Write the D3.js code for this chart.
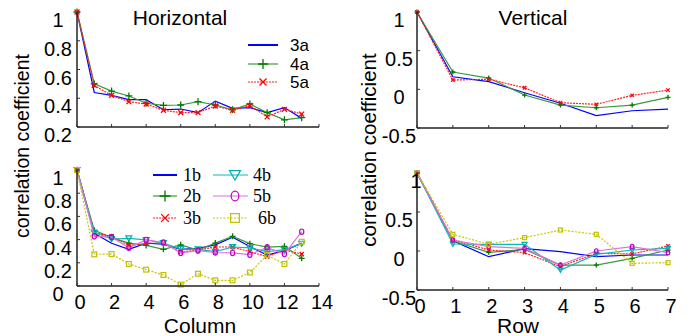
<!DOCTYPE html>
<html>
<head>
<meta charset="utf-8">
<script src="https://cdn.jsdelivr.net/npm/d3@7"></script>
<style>
  body { margin: 0; background: #fff; }
  svg { display: block; font-family: "Liberation Sans", Arial, sans-serif; }
</style>
</head>
<body>
<div id="chart"></div>
<script>
//
// Correlation vs offset, 2x2 panels
//
const columnIdx = [0, 1, 2, 3, 4, 5, 6, 7, 8, 9, 10, 11, 12, 13]
const rowIdx = [0, 1, 2, 3, 4, 5, 6, 7]

// top left: horizontal, series a
const h3a = [1, 0.44, 0.42, 0.39, 0.39, 0.32, 0.325, 0.30, 0.38, 0.33, 0.335, 0.30, 0.335, 0.26]
const h4a = [1, 0.50, 0.45, 0.416, 0.365, 0.35, 0.353, 0.376, 0.353, 0.32, 0.36, 0.30, 0.25, 0.265]
const h5a = [1, 0.49, 0.42, 0.376, 0.36, 0.316, 0.30, 0.30, 0.346, 0.316, 0.35, 0.27, 0.323, 0.29]

// top right: vertical, series a
const v3a = [1, 0.163, 0.10, -0.044, -0.18, -0.34, -0.277, -0.255]
const v4a = [1, 0.224, 0.146, -0.074, -0.203, -0.238, -0.203, -0.103]
const v5a = [1, 0.12, 0.13, 0.02, -0.173, -0.194, -0.078, -0.01]

// bottom left: horizontal, series b
const h1b = [1, 0.454, 0.368, 0.316, 0.37, 0.36, 0.316, 0.325, 0.355, 0.42, 0.34, 0.267, 0.305, 0.37]
const h2b = [1, 0.48, 0.417, 0.37, 0.35, 0.316, 0.355, 0.31, 0.37, 0.428, 0.365, 0.335, 0.342, 0.239]
const h3b = [1, 0.46, 0.428, 0.35, 0.368, 0.37, 0.292, 0.31, 0.336, 0.336, 0.296, 0.253, 0.31, 0.275]
const h4b = [1, 0.46, 0.405, 0.411, 0.397, 0.37, 0.318, 0.316, 0.296, 0.336, 0.328, 0.296, 0.313, 0.365]
const h5b = [1, 0.428, 0.422, 0.33, 0.397, 0.375, 0.285, 0.305, 0.289, 0.285, 0.27, 0.333, 0.275, 0.468]
const h6b = [1, 0.273, 0.275, 0.19, 0.141, 0.095, 0.012, 0.106, 0.049, 0.049, 0.116, 0.266, 0.19, 0.382]

// bottom right: vertical, series b
const v1b = [1, 0.13, -0.073, 0.03, -0.008, -0.073, -0.051, -0.051]
const v2b = [1, 0.13, -0.017, 0.021, -0.18, -0.18, -0.094, 0.013]
const v3b = [1, 0.145, 0.013, -0.021, -0.2, -0.03, -0.038, 0.064]
const v4b = [1, 0.09, 0.086, 0.086, -0.244, -0.043, 0.013, 0.034]
const v5b = [1, 0.141, 0.055, 0.034, -0.18, 0, 0.055, -0.021]
const v6b = [1, 0.214, 0.086, 0.171, 0.269, 0.214, -0.158, -0.15]

// tick labels
const leftTopYTicks = [0.2, 0.4, 0.6, 0.8, 1]
const leftTopYLabels = ["0.2", "0.4", "0.6", "0.8", "1"]
const leftBotYTicks = [0, 0.2, 0.4, 0.6, 0.8, 1]
const leftBotYLabels = ["0", "0.2", "0.4", "0.6", "0.8", "1"]
const rightYTicks = [-0.5, 0, 0.5, 1]
const rightYLabels = ["-0.5", "0", "0.5", "1"]
const columnTicks = [0, 2, 4, 6, 8, 10, 12, 14]
const rowTicks = [0, 1, 2, 3, 4, 5, 6, 7]

// series styles
const styles = {
  "1b": { line: "#0000ff", mark: "#0000ff", type: null, dash: null },
  "2b": { line: "#3c9a3c", mark: "#007a00", type: "plus", dash: null },
  "3b": { line: "#ff2020", mark: "#ff0000", type: "cross", dash: "2,1" },
  "4b": { line: "#10b8b8", mark: "#00b0b0", type: "tri", dash: null },
  "5b": { line: "#e070e0", mark: "#c000c0", type: "circle", dash: null },
  "6b": { line: "#c8c800", mark: "#c0c000", type: "square", dash: "2,1.5" }
}
styles["3a"] = styles["1b"]
styles["4a"] = styles["2b"]
styles["5a"] = styles["3b"]

const svg = d3.select("#chart").append("svg")
  .attr("width", 690)
  .attr("height", 336)

// draw one marker glyph
function marker(g, type, x, y, s, color) {
  if (type === "plus") {
    g.append("path").attr("d", `M${x - s},${y}H${x + s}M${x},${y - s}V${y + s}`)
      .attr("stroke", color).attr("stroke-width", 1.3).attr("fill", "none")
  } else if (type === "cross") {
    g.append("path").attr("d", `M${x - s * 0.7},${y - s * 0.7}L${x + s * 0.7},${y + s * 0.7}M${x - s * 0.7},${y + s * 0.7}L${x + s * 0.7},${y - s * 0.7}`)
      .attr("stroke", color).attr("stroke-width", 1.3).attr("fill", "none")
  } else if (type === "tri") {
    g.append("path").attr("d", `M${x - s},${y - s * 0.8}L${x + s},${y - s * 0.8}L${x},${y + s * 0.9}Z`)
      .attr("stroke", color).attr("stroke-width", 1.2).attr("fill", "none")
  } else if (type === "circle") {
    g.append("ellipse").attr("cx", x).attr("cy", y).attr("rx", s * 0.7).attr("ry", s * 0.9)
      .attr("stroke", color).attr("stroke-width", 1.2).attr("fill", "none")
  } else if (type === "square") {
    g.append("rect").attr("x", x - s * 0.8).attr("y", y - s * 0.8).attr("width", s * 1.6).attr("height", s * 1.6)
      .attr("stroke", color).attr("stroke-width", 1.2).attr("fill", "none")
  }
}

function panel(opt) {
  const x = d3.scaleLinear().domain(opt.xDomain).range([opt.left, opt.right])
  const y = d3.scaleLinear().domain(opt.yDomain).range([opt.bottom, opt.top])
  const g = svg.append("g")

  // series lines and markers
  opt.series.forEach(function(s) {
    const st = styles[s.name]
    const line = d3.line().x((d, i) => x(opt.xs[i])).y(d => y(d))
    g.append("path")
      .attr("d", line(s.values))
      .attr("fill", "none")
      .attr("stroke", st.line)
      .attr("stroke-width", 1.2)
      .attr("stroke-dasharray", st.dash)
    if (st.type) {
      s.values.forEach(function(v, i) {
        marker(g, st.type, x(opt.xs[i]), y(v), opt.markSize, st.mark)
      })
    }
  })

  // axes
  const ax = svg.append("g")
  ax.append("line")
    .attr("x1", x(opt.xDomain[0])).attr("x2", x(opt.xDomain[1]))
    .attr("y1", opt.bottom).attr("y2", opt.bottom)
    .attr("stroke", "#222").attr("stroke-width", 1.5)
  ax.append("line")
    .attr("x1", opt.left).attr("x2", opt.left)
    .attr("y1", opt.bottom).attr("y2", y(1))
    .attr("stroke", "#222").attr("stroke-width", 1.5)
  ax.selectAll(".xt").data(opt.xTicks).enter().append("line")
    .attr("x1", d => x(d)).attr("x2", d => x(d))
    .attr("y1", opt.bottom).attr("y2", opt.bottom - 3)
    .attr("stroke", "#333")
  ax.selectAll(".yt").data(opt.yTicks).enter().append("line")
    .attr("x1", opt.left).attr("x2", opt.left + 3)
    .attr("y1", d => y(d)).attr("y2", d => y(d))
    .attr("stroke", "#333")
  ax.selectAll(".yl").data(opt.yTicks).enter().append("text")
    // the top label of the lower right panel sits on the axis line
    .attr("x", d => (opt.topOnAxis && d === 1) ? opt.left - 1 : opt.yLabelX)
    .attr("y", d => y(d) + 8)
    .attr("text-anchor", "middle")
    .attr("dominant-baseline", "central")
    .style("font-size", "20px")
    .text((d, i) => opt.yLabels[i])
  if (opt.showX) {
    ax.selectAll(".xl").data(opt.xTicks).enter().append("text")
      .attr("x", d => x(d) + 3)
      .attr("y", opt.bottom + 16)
      .attr("text-anchor", "middle")
      .attr("dominant-baseline", "central")
      .style("font-size", "20px")
      .text(d => d)
  }
  return { x: x, y: y }
}

// top left
panel({
  left: 77, right: 319, top: 12, bottom: 127,
  xDomain: [0, 14], yDomain: [0.2, 1], xs: columnIdx,
  xTicks: columnTicks, yTicks: leftTopYTicks, yLabels: leftTopYLabels, yLabelX: 58,
  showX: false, markSize: 3.5,
  series: [{ name: "3a", values: h3a }, { name: "4a", values: h4a }, { name: "5a", values: h5a }]
})
// top right
panel({
  left: 417, right: 668, top: 12, bottom: 128,
  xDomain: [0, 7], yDomain: [-0.5, 1], xs: rowIdx,
  xTicks: rowTicks, yTicks: rightYTicks, yLabels: rightYLabels, yLabelX: 399,
  showX: false, markSize: 2.5,
  series: [{ name: "3a", values: v3a }, { name: "4a", values: v4a }, { name: "5a", values: v5a }]
})
// bottom left
panel({
  left: 77, right: 319, top: 170, bottom: 286,
  xDomain: [0, 14], yDomain: [0, 1], xs: columnIdx,
  xTicks: columnTicks, yTicks: leftBotYTicks, yLabels: leftBotYLabels, yLabelX: 58,
  showX: true, markSize: 3,
  series: [{ name: "1b", values: h1b }, { name: "2b", values: h2b }, { name: "3b", values: h3b },
           { name: "4b", values: h4b }, { name: "5b", values: h5b }, { name: "6b", values: h6b }]
})
// bottom right
panel({
  left: 417, right: 668, top: 173, bottom: 290,
  xDomain: [0, 7], yDomain: [-0.5, 1], xs: rowIdx,
  xTicks: rowTicks, yTicks: rightYTicks, yLabels: rightYLabels, yLabelX: 399,
  showX: true, markSize: 2.5, topOnAxis: true,
  series: [{ name: "1b", values: v1b }, { name: "2b", values: v2b }, { name: "3b", values: v3b },
           { name: "4b", values: v4b }, { name: "5b", values: v5b }, { name: "6b", values: v6b }]
})

// titles and axis labels
svg.append("text").attr("x", 180).attr("y", 17).attr("text-anchor", "middle")
  .attr("dominant-baseline", "central").style("font-size", "21px").text("Horizontal")
svg.append("text").attr("x", 533).attr("y", 17).attr("text-anchor", "middle")
  .attr("dominant-baseline", "central").style("font-size", "21px").text("Vertical")
svg.append("text").attr("x", 200).attr("y", 325).attr("text-anchor", "middle")
  .attr("dominant-baseline", "central").style("font-size", "21px").text("Column")
svg.append("text").attr("x", 518).attr("y", 325).attr("text-anchor", "middle")
  .attr("dominant-baseline", "central").style("font-size", "21px").text("Row")
svg.append("text").attr("transform", "translate(22,146) rotate(-90)").attr("text-anchor", "middle")
  .attr("dominant-baseline", "central").style("font-size", "19.5px").text("correlation coefficient")
svg.append("text").attr("transform", "translate(368,150) rotate(-90)").attr("text-anchor", "middle")
  .attr("dominant-baseline", "central").style("font-size", "20.5px").text("correlation coefficient")

// legends
const legA = svg.append("g")
;["3a", "4a", "5a"].forEach(function(n, i) {
  const ly = [45, 64, 82][i]
  const st = styles[n]
  legA.append("line").attr("x1", 248).attr("x2", 278).attr("y1", ly).attr("y2", ly)
    .attr("stroke", st.line).attr("stroke-width", i === 0 ? 2 : 1.2).attr("stroke-dasharray", st.dash)
  if (st.type) marker(legA, st.type, 263, ly, 5, st.mark)
  legA.append("text").attr("x", 290).attr("y", ly).attr("dominant-baseline", "central")
    .style("font-size", "17px").text(n)
})
const legB = svg.append("g").style("font-family", "'Liberation Serif', 'Times New Roman', serif")
;["1b", "2b", "3b", "4b", "5b", "6b"].forEach(function(n, i) {
  const col = Math.floor(i / 3)
  const ly = [175, 196, 218][i % 3]
  const st = styles[n]
  const x1 = col === 0 ? 153 : 213
  const x2 = col === 0 ? 177 : 248
  const mx = col === 0 ? 165 : 235
  legB.append("line").attr("x1", x1).attr("x2", x2).attr("y1", ly).attr("y2", ly)
    .attr("stroke", st.line).attr("stroke-width", i === 0 ? 2 : 1.2).attr("stroke-dasharray", st.dash)
  if (st.type) marker(legB, st.type, mx, ly, 5.5, st.mark)
  legB.append("text").attr("x", col === 0 ? 183 : (n === "6b" ? 258 : 253)).attr("y", ly)
    .attr("dominant-baseline", "central").style("font-size", "18px").text(n)
})
</script>
</body>
</html>
